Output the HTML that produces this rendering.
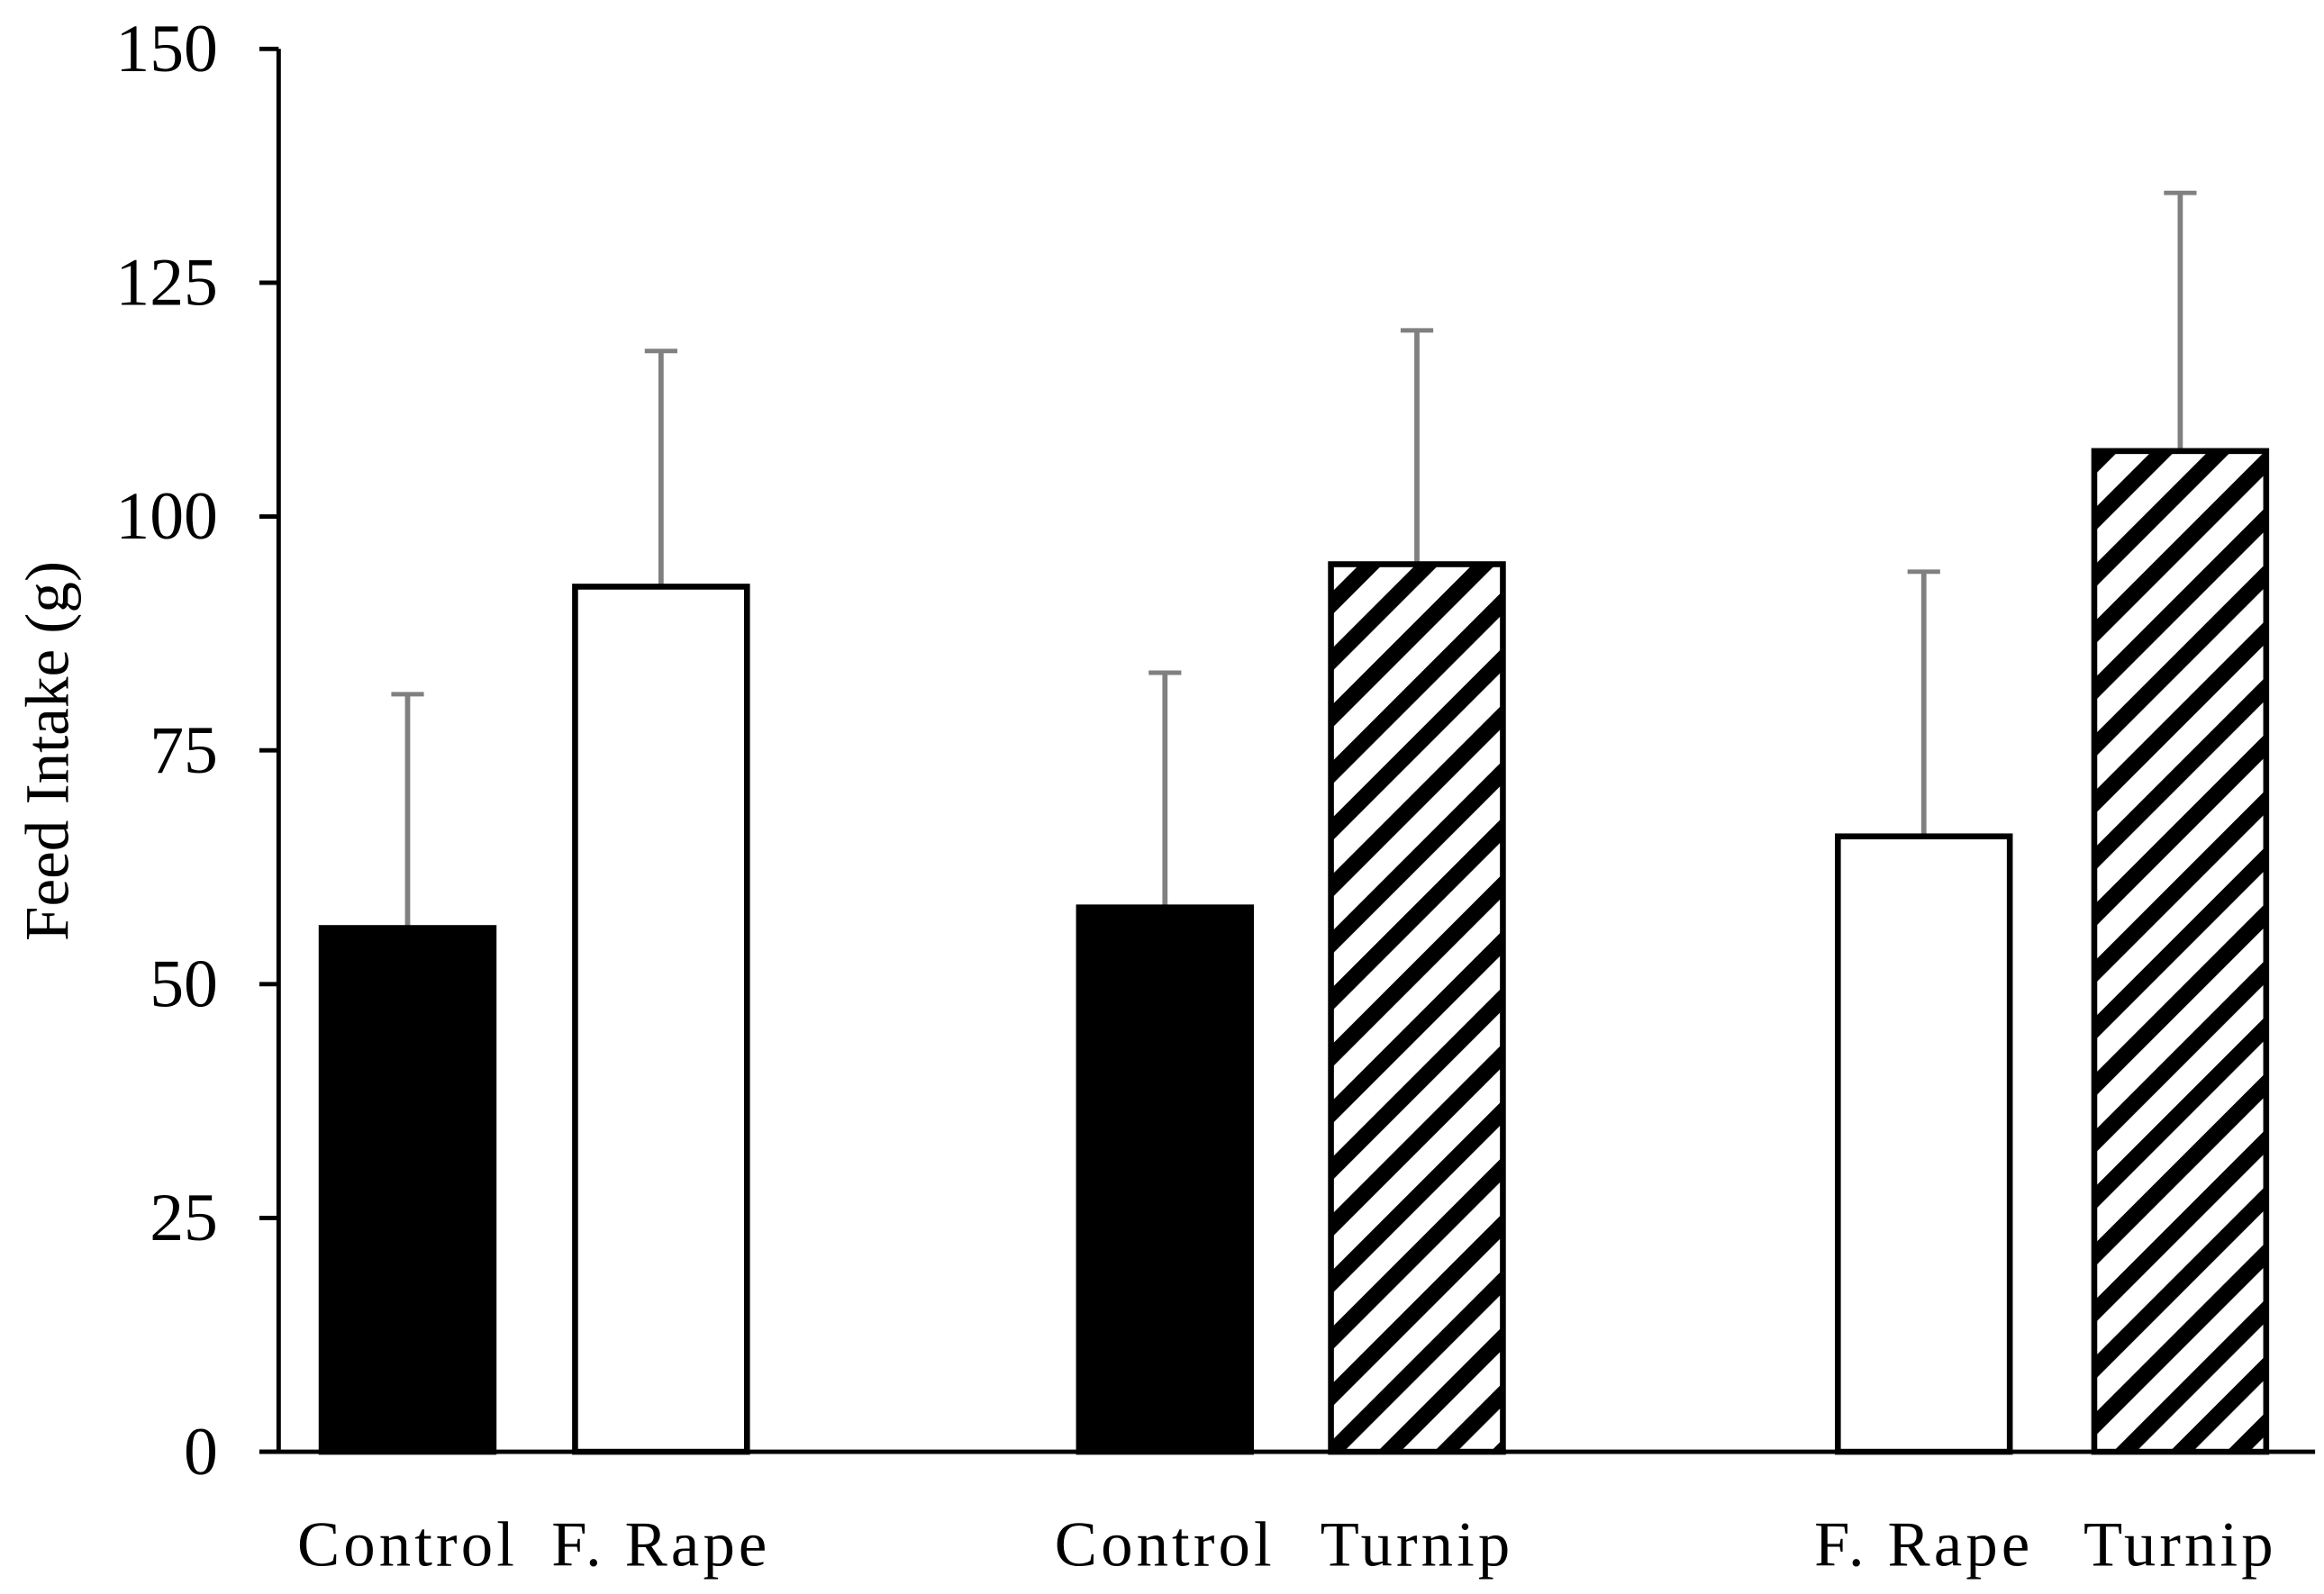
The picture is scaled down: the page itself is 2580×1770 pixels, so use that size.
<!DOCTYPE html>
<html><head><meta charset="utf-8"><style>html,body{margin:0;padding:0;background:#fff}svg{display:block}</style></head>
<body>
<svg width="2580" height="1770" viewBox="0 0 1568 1076" preserveAspectRatio="none" xmlns="http://www.w3.org/2000/svg" font-family="Liberation Serif, serif">
<defs>
<pattern id="hatch" patternUnits="userSpaceOnUse" width="27" height="27" patternTransform="rotate(45)">
<rect width="27" height="27" fill="#fff"/><rect width="11" height="27" fill="#000"/>
</pattern>
</defs>
<g id="chart"></g>
</svg>
<script>
const categories = ["Control","F. Rape","Control","Turnip","F. Rape","Turnip"];
const values = [56, 92.5, 58.2, 94.9, 65.8, 107];
const errors = [25, 25.2, 25.1, 25, 28.3, 27.6];
const fills = ["solid","open","solid","hatch","open","hatch"];
const yTicks = [0,25,50,75,100,125,150];
const barLeft = [217,388,728,898,1240,1413];
const barW = 116;
const y0 = 980, yTop = 33, yMax = 150;
function yScale(v){ return y0 - (v / yMax) * (y0 - yTop); }
const NS = "http://www.w3.org/2000/svg";
const g = document.getElementById('chart');
function mk(tag, attrs){ const e = document.createElementNS(NS, tag); for (const k in attrs) e.setAttribute(k, attrs[k]); g.appendChild(e); return e; }

values.forEach((v,i)=>{
  const x = barLeft[i], y = yScale(v);
  const eTop = yScale(v + errors[i]);
  const cx = x + barW/2;
  const el = mk('line',{x1:cx,x2:cx,y1:y,y2:eTop,stroke:'#808080','stroke-width':3.5});
  
  
  const cap = mk('line',{x1:cx-11,x2:cx+11,y1:eTop,y2:eTop,stroke:'#808080','stroke-width':3});
  
  
  const fill = fills[i]==='solid' ? '#000' : fills[i]==='hatch' ? 'url(#hatch)' : '#fff';
  const b = mk('rect',{x:x,y:y,width:barW,height:y0-y,fill:fill,stroke:'#000','stroke-width':4});
  
  
  const t = mk('text',{x:cx,y:1057,'font-size':43,'letter-spacing':2.5,'text-anchor':'middle',fill:'#000'});
  t.textContent = categories[i];
  
  
});

const ax = mk('line',{x1:188,x2:188,y1:yTop,y2:y0,stroke:'#000','stroke-width':3});


const xa = mk('line',{x1:175,x2:1562,y1:y0,y2:y0,stroke:'#000','stroke-width':3});


yTicks.forEach(v=>{
  const y = yScale(v);
  const tk = mk('line',{x1:175,x2:188,y1:y,y2:y,stroke:'#000','stroke-width':3});
  
  
  const tl = mk('text',{x:147,y:y+15,'font-size':46,'text-anchor':'end',fill:'#000'});
  tl.textContent = v;
  
  
});
const title = mk('text',{x:0,y:0,'font-size':42,'text-anchor':'middle',fill:'#000',transform:'translate(46,507) rotate(-90)'});
title.textContent = 'Feed Intake (g)';


</script>
</body></html>
